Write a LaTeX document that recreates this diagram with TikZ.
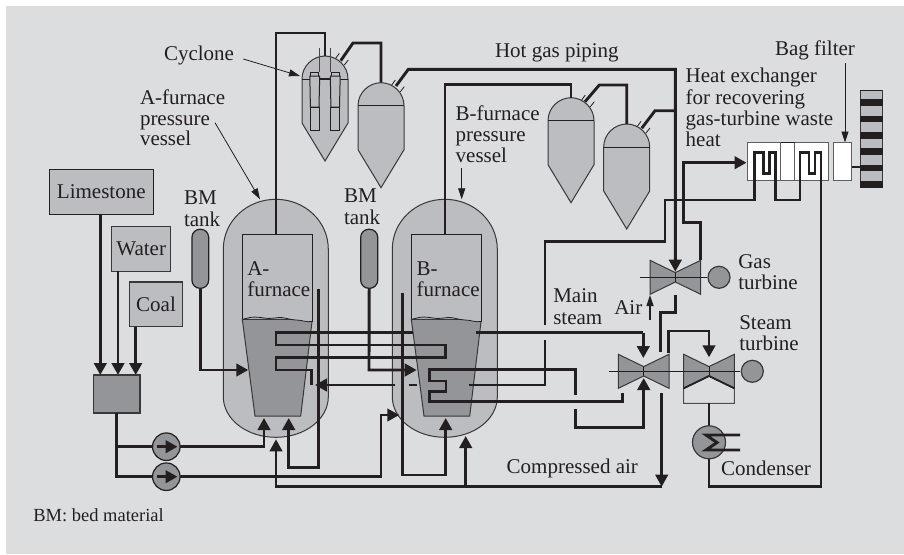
\documentclass[tikz,border=0pt]{standalone}
\usepackage{fontspec}
\setmainfont{Liberation Serif}
\usetikzlibrary{arrows.meta,calc}
\definecolor{ink}{HTML}{231F20}
\definecolor{bgg}{HTML}{DCDDDF}
\definecolor{lite}{HTML}{BCBDC0}
\definecolor{dark}{HTML}{939598}
\newcommand\lab[3]{\node[lbl] (#1) at (#2) {#3};}
\newcommand\Cyc[2]{%
 \begin{scope}[shift={(#1,#2)}]
 \path[shell] (-23,23) .. controls (-23,10) and (-12,0) .. (0,0) .. controls (12,0) and (23,10) .. (23,23) -- (23,67) -- (0,105) -- (-23,67) -- cycle;
 \draw[thinline] (-23,23) -- (23,23);
 \draw[thinline] (14.3,-2.7) -- (10.7,2.3) (23.3,4) -- (19.3,9);
 \end{scope}}
\newcommand\Vess{%
 \path[shell] (-52.5,50) .. controls (-52.5,22) and (-29,0) .. (0,0) .. controls (29,0) and (52.5,22) .. (52.5,50) -- (52.5,197.4) .. controls (52.5,220) and (29,238) .. (0,238) .. controls (-29,238) and (-52.5,220) .. (-52.5,197.4) -- cycle;}
\newcommand\Furn{%
 \path[shell,fill=dark] (242.3,319.3) -- (255,416) -- (300.7,416) -- (312.3,319.3) -- cycle;
 \path[fill=lite] (242.3,234.3) -- (312.3,234.3) -- (312.3,321.5) .. controls (306,322.5) and (302,320) .. (296,320) .. controls (290,320) and (284,317) .. (279,317.5) .. controls (274,318) and (270,319) .. (264,318) .. controls (258,317) and (252,316.5) .. (248,318) .. controls (246,319) and (244,318.5) .. (242.3,319.3) -- cycle;
 \draw[ink,line width=.8pt] (312.3,321.5) .. controls (306,322.5) and (302,320) .. (296,320) .. controls (290,320) and (284,317) .. (279,317.5) .. controls (274,318) and (270,319) .. (264,318) .. controls (258,317) and (252,316.5) .. (248,318) .. controls (246,319) and (244,318.5) .. (242.3,319.3);
 \draw[ink,line width=1.2pt] (242.3,319.3) -- (242.3,234.3) -- (312.3,234.3) -- (312.3,321.5);}
\newcommand\Bow[4]{% left x, mid x, right x, axis y
 \path[shell,fill=dark] (#1,#4-17) -- (#2,#4-4.7) -- (#3,#4-17) -- (#3,#4+17) -- (#2,#4+4.7) -- (#1,#4+17) -- cycle;
 \draw[thinline] (#2,#4-4.7) -- (#2,#4+4.7);}
\tikzset{
 pipe/.style={draw=ink,line width=2.9pt,miter limit=10},
 slim/.style={line width=2.5pt},
 tip/.style={-{Triangle[width=12.5pt,length=12pt]}},
 thinarrow/.style={draw=ink,line width=.8pt,-{Triangle[width=7pt,length=11pt]}},
 thinline/.style={draw=ink,line width=.8pt},
 shell/.style={draw=ink!85!lite,line width=1pt,fill=lite},
 lbl/.style={anchor=base west,inner sep=0pt,outer sep=0pt,text=ink,font=\fontsize{21}{21}\selectfont},
 tbox/.style={draw=ink,line width=1.2pt,fill=lite,inner sep=0pt,outer sep=0pt,text=ink,font=\fontsize{21}{21}\selectfont},
 whitebox/.style={draw=ink!60!lite,line width=1pt,fill=white,inner sep=0pt,outer sep=0pt},
 roundc/.style={circle,draw=ink,line width=1.2pt,fill=dark,inner sep=0pt,outer sep=0pt},
 tank/.style={rounded corners=8pt,draw=ink,line width=1.2pt,fill=dark},
}
\begin{document}
\begin{tikzpicture}[x=1pt,y=-1pt]
\useasboundingbox (0,0) rectangle (904,554);
\fill[bgg] (6,6) rectangle (904,554);

%--- vessels and furnaces
\begin{scope}[shift={(275.8,199.3)}]\Vess\end{scope}
\begin{scope}[shift={(444.8,199.3)}]\Vess\end{scope}
\Furn
\begin{scope}[shift={(169,0)}]\Furn\end{scope}
\coordinate (Ftop) at (276,234.3);
\coordinate (Btop) at (445,234.3);

%--- cyclones
\Cyc{325}{56}
\Cyc{381}{82.7}
\Cyc{571}{97.7}
\Cyc{626.7}{124}
\coordinate (c1) at (325,56);
\coordinate (c2) at (381,82.7);
\coordinate (c3) at (571,97.7);
\coordinate (c4) at (626.7,124);
\coordinate (c1o) at (340.7,60.7);
\coordinate (c2o) at (396,86);
\coordinate (c3o) at (585,101.7);
\coordinate (c4o) at (641.7,128.3);
% dip tubes
\foreach \d in {0,20.5}{
 \begin{scope}[shift={(\d,0)}]
 \draw[thinline,draw=ink,line width=1pt,fill=lite] (310.7,72) rectangle (318.7,76);
 \draw[thinline,line width=1pt,fill=lite] (309.8,76) -- (319.7,76) -- (319,107) -- (310.4,107) -- cycle;
 \draw[thinline,line width=1pt,fill=lite] (310.4,107) rectangle (319,130);
 \end{scope}}
\draw[thinline,draw=ink!75!lite] (319.3,48) -- (319.3,72) (330,48) -- (330,72);
\draw[pipe,line width=1.6pt] (319.7,79) -- (330.3,79);

%--- hot gas piping
\draw[pipe] (Ftop) -- (276,33) -- (325,33) -- (c1);
\draw[pipe] (c1o) -- (353,43) -- (381,43) -- (c2);
\draw[pipe] (Btop) -- (445,84.3) -- (571,84.3) -- (c3);
\draw[pipe] (c3o) -- (599.3,85) -- (626.7,85) -- (c4);
\draw[pipe] (c4o) -- (655,110.7) -- (675,110.7);
\coordinate (gasin) at (675.3,271.7);
\draw[pipe,tip] (c2o) -- (408.3,69.3) -- (675.3,69.3) -- (gasin);

%--- feed boxes
\node[tbox,minimum width=104pt,minimum height=45pt] (lime) at (101.3,191.8) {Limestone};
\node[tbox,draw=ink!85!lite,minimum width=59pt,minimum height=45pt] (water) at (141.2,248.8) {Water};
\node[tbox,draw=ink!85!lite,minimum width=53.4pt,minimum height=44.7pt] (coal) at (156,304.3) {Coal};
\node[tbox,draw=ink!85!lite,fill=dark,minimum width=46.7pt,minimum height=38pt] (mix) at (116.7,394) {};
\draw[pipe,line width=3.6pt,tip] (lime.south -| 100.3,0) -- (mix.north -| 100.3,0);
\draw[pipe,tip] (water.south -| 118,0) -- (mix.north -| 118,0);
\draw[pipe,tip] (coal.south -| 135.7,0) -- (mix.north -| 135.7,0);

%--- slurry lines and pumps
\coordinate (Aair1) at (264,418);
\coordinate (Bnoz) at (399.3,415);
\draw[pipe,slim,tip] (mix.south) -- (116.7,446.7) -- (264,446.7) -- (Aair1);
\draw[pipe,slim,tip] (116.7,446.7) -- (116.7,476.7) -- (381,476.7) -- (381,415) -- (Bnoz);
\node[roundc,minimum size=27.5pt] (p1) at (166.3,446.7) {};
\node[roundc,minimum size=27.5pt] (p2) at (166.3,476.7) {};
\draw[pipe,tip] (156.5,446.7) -- (177.5,446.7);
\draw[pipe,tip] (156.5,476.7) -- (177.5,476.7);

%--- BM tanks
\node[tank,minimum width=16.7pt,minimum height=59pt,inner sep=0pt,outer sep=0pt] (bma) at (200.3,258.8) {};
\node[tank,minimum width=17pt,minimum height=59pt,inner sep=0pt,outer sep=0pt] (bmb) at (369.2,258.8) {};
\coordinate (Atipbm) at (248.3,370);
\coordinate (Btipbm) at (416.7,370);
\draw[pipe,tip] (bma.south) -- (200.3,370) -- (Atipbm);

%--- internal tubes (A loop passes behind B furnace)
\coordinate (ST) at (643.3,358);
\draw[pipe] (476,332.7) -- (643.3,332.7);
\draw[pipe,tip] (643.3,332.7) -- (ST);
\draw[pipe] (413,332.7) -- (276,332.7) -- (276,345) -- (445.7,345) -- (445.7,357.3) -- (276,357.3) -- (276,370) -- (311.7,370) -- (311.7,385);
\draw[pipe,tip] (bmb.south) -- (369,370) -- (Btipbm);
% return lines
\coordinate (Aret) at (315,385);
\draw[pipe,tip] (395,385) -- (Aret);
\draw[pipe] (409,385) -- (417,385);
\draw[pipe] (469,385) -- (545,385) -- (545,340);
\draw[pipe] (545,325) -- (545,241.7) -- (665,241.7) -- (665,200) -- (754.3,200) -- (754.3,152.3) -- (763.3,152.3);
% A/B bed recirculation
\coordinate (Abed) at (288.7,418);
\coordinate (Bbed) at (445.7,418);
\draw[pipe,tip] (318.7,289.3) -- (318.7,467.3) -- (288.7,467.3) -- (Abed);
\draw[pipe,tip] (402.7,292.7) -- (402.7,475) -- (445.7,475) -- (Bbed);
% B tube bundle
\draw[pipe] (575.7,395) -- (575.7,369.5) -- (429.3,369.5) -- (429.3,381) -- (446,381) -- (446,391.7) -- (429.3,391.7) -- (429.3,401.7) -- (622.3,401.7) -- (622.3,392.7);
\coordinate (SB) at (643.7,378);
\draw[pipe,tip] (575.7,409.3) -- (575.7,427.7) -- (643.7,427.7) -- (SB);

%--- compressed air
\coordinate (ca1) at (276,439.3);
\coordinate (ca2) at (465.7,436);
\coordinate (caend) at (661.7,486.7);
\draw[pipe,slim,tip] (caend) -- (276,486.7) -- (ca1);
\draw[pipe,slim,tip] (465.7,486.7) -- (ca2);
\draw[pipe,slim,tip] (661.7,393.3) -- (caend);

%--- turbines
\Bow{650}{675.3}{700.7}{277.3}
\path[shell,fill=bgg,draw=ink!70!lite] (683.7,388.3) -- (709,376) -- (734.3,388.3) -- (734.3,403.3) -- (683.7,403.3) -- cycle;
\Bow{618.3}{643.7}{669}{371.3}
\Bow{683.7}{709}{734.3}{371.3}
\draw[pipe,line width=1.8pt] (683.7,388.3) -- (709,376) -- (734.3,388.3);
\draw[thinline] (609.3,371.3) -- (740,371.3);
\draw[thinline] (640,277.3) -- (706.7,277.3);
\node[roundc,draw=ink!85!lite,minimum size=22pt] (gen1) at (719,277.3) {};
\node[roundc,draw=ink!85!lite,minimum size=22pt] (gen2) at (752.3,371.3) {};
\draw[pipe] (660.7,351.7) -- (660.7,312.3) -- (675.3,312.3) -- (675.3,294.6);
\draw[pipe,tip] (668.7,353.3) -- (668.7,331) -- (709,331) -- (709,357.3);
\coordinate (hexin) at (746.5,162.7);
\draw[pipe,tip] (700.7,260) -- (700.7,222.3) -- (683.3,222.3) -- (683.3,162.7) -- (hexin);
\draw[thinarrow,line width=1.2pt] (650,320) -- (650,295);

%--- heat exchanger
\node[whitebox,minimum width=81pt,minimum height=38pt] (hex) at (787.8,161.7) {};
\node[whitebox,minimum width=14pt,minimum height=38pt] (mid) at (787.7,161.7) {};
\draw[ink,line width=1.2pt] (780.7,142.7) -- (794.7,142.7);
\node[whitebox,minimum width=18.4pt,minimum height=38pt] (bag) at (842.5,161.7) {};
\draw[pipe,slim] (754.3,200) -- (754.3,152.3) -- (763.3,152.3) -- (763.3,173.3) -- (769.3,173.3) -- (769.3,152.3) -- (775.7,152.3) -- (775.7,200) -- (800,200) -- (800,152.3) -- (809,152.3) -- (809,173.3) -- (815,173.3) -- (815,152.3) -- (821,152.3) -- (821,486.7) -- (709,486.7) -- (709,458);

%--- stack
\path[draw=ink!85!lite,line width=1pt,fill=lite] (860,90) rectangle (882,187.7);
\foreach \i in {0,...,5}
 \fill[ink] (859.5,99.3+16.33*\i) rectangle (882.5,105.9+16.33*\i);
\draw[pipe,line width=1.8pt] (bag.east |- 0,167.3) -- (860,167.3);
\draw[ink,line width=1pt,fill=lite] (860,90) -- (882,90);

%--- condenser
\draw[pipe] (709,403.3) -- (709,426);
\node[roundc,draw=ink!85!lite,line width=1.2pt,minimum size=33pt] (cond) at (709,442.3) {};
\draw[pipe,miter limit=4] (740,435) -- (706,435) -- (717,442.5) -- (706,450) -- (740,450);

%--- texts
\lab{tcyc}{164,60}{Cyclone}
\lab{thot}{495,57}{Hot gas piping}
\lab{ta1}{140,104}{A-furnace}
\lab{ta2}{140,125}{pressure}
\lab{ta3}{140,145.7}{vessel}
\lab{tb1}{455.7,120}{B-furnace}
\lab{tb2}{455.7,141}{pressure}
\lab{tb3}{455.7,162.5}{vessel}
\lab{tbm1}{184,204}{BM}
\lab{tbm2}{184,226}{tank}
\lab{tbm3}{344,202}{BM}
\lab{tbm4}{344,224}{tank}
\lab{taf1}{247.3,275}{A-}
\lab{taf2}{247.3,296}{furnace}
\lab{tbf1}{416.7,275}{B-}
\lab{tbf2}{416.7,296}{furnace}
\lab{th1}{685.7,82.7}{Heat exchanger}
\lab{th2}{685.7,104}{for recovering}
\lab{th3}{685.7,125.3}{gas-turbine waste}
\lab{th4}{685.7,146.7}{heat}
\lab{tbag}{775,55}{Bag filter}
\lab{tg1}{738.3,268}{Gas}
\lab{tg2}{738.3,289.3}{turbine}
\lab{ts1}{739.3,329}{Steam}
\lab{ts2}{739.3,350.7}{turbine}
\lab{tm1}{553.3,302.7}{Main}
\lab{tm2}{553.3,324}{steam}
\lab{tair}{614.3,314.3}{Air}
\lab{tca}{506.7,473.3}{Compressed air}
\lab{tcn}{721,475.7}{Condenser}
\node[lbl,font=\fontsize{18.5}{18.5}\selectfont] (tbmn) at (33.3,521) {BM: bed material};

%--- pointer arrows
\coordinate (cycp) at (300,76);
\coordinate (ap) at (260,199.3);
\coordinate (bp) at (461.7,199.3);
\coordinate (bagp) at (845,142.5);
\draw[thinarrow] (243.3,59) -- (cycp);
\draw[thinarrow] (215,122.7) -- (ap);
\draw[thinarrow] (461.7,168.3) -- (bp);
\draw[thinarrow] (845,63) -- (bagp);
\end{tikzpicture}
\end{document}
